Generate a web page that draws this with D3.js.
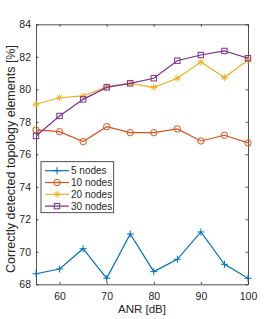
<!DOCTYPE html>
<html>
<head>
<meta charset="utf-8">
<script src="https://cdn.jsdelivr.net/npm/d3@7"></script>
<style>
body { margin: 0; background: #fff; }
text { font-family: "Liberation Sans", Arial, sans-serif; fill: #262626; }
</style>
</head>
<body>
<div id="chart"></div>
<script>
var anr = [55, 60, 65, 70, 75, 80, 85, 90, 95, 100];
var nodes5 = [68.65, 68.94, 70.19, 68.37, 71.1, 68.78, 69.54, 71.22, 69.23, 68.37];
var nodes10 = [77.5, 77.39, 76.78, 77.7, 77.33, 77.33, 77.56, 76.82, 77.17, 76.7];
var nodes20 = [79.08, 79.48, 79.59, 80.16, 80.37, 80.12, 80.68, 81.68, 80.72, 81.8];
var nodes30 = [77.13, 78.36, 79.38, 80.12, 80.37, 80.68, 81.76, 82.11, 82.36, 81.91];
var xTicks = [60, 70, 80, 90, 100];
var yTicks = [68, 70, 72, 74, 76, 78, 80, 82, 84];

var series = [
	{ name: "5 nodes", values: nodes5, color: "#0072BD", marker: "plus" },
	{ name: "10 nodes", values: nodes10, color: "#D95319", marker: "circle" },
	{ name: "20 nodes", values: nodes20, color: "#EDB120", marker: "star" },
	{ name: "30 nodes", values: nodes30, color: "#7E2F8E", marker: "square" }
];

var W = 274, H = 319;
var pLeft = 36, pRight = 248, pTop = 24.3, pBottom = 284.3;

var svg = d3.select("#chart").append("svg")
	.attr("width", W)
	.attr("height", H);

var x = d3.scaleLinear().domain([55, 100]).range([pLeft, pRight]);
var y = d3.scaleLinear().domain([68, 84]).range([pBottom, pTop]);

// axes with inward ticks, box on all four sides
var axisColor = "#262626";
svg.append("g").attr("transform", "translate(0," + pBottom + ")")
	.call(d3.axisBottom(x).tickValues(xTicks).tickSizeInner(-2.5).tickSizeOuter(0).tickPadding(8));
svg.append("g").attr("transform", "translate(0," + pTop + ")")
	.call(d3.axisTop(x).tickValues(xTicks).tickSizeInner(-2.5).tickSizeOuter(0).tickFormat(""));
svg.append("g").attr("transform", "translate(" + pLeft + ",0)")
	.call(d3.axisLeft(y).tickValues(yTicks).tickSizeInner(-2.5).tickSizeOuter(0).tickPadding(5));
svg.append("g").attr("transform", "translate(" + pRight + ",0)")
	.call(d3.axisRight(y).tickValues(yTicks).tickSizeInner(-2.5).tickSizeOuter(0).tickFormat(""));
svg.selectAll(".domain, .tick line").attr("stroke", axisColor).attr("stroke-width", 0.8);
svg.selectAll(".tick text").style("font-size", "10.5px").attr("fill", axisColor);

svg.append("text")
	.attr("x", (pLeft + pRight) / 2)
	.attr("y", 313)
	.attr("text-anchor", "middle")
	.style("font-size", "11.5px")
	.text("ANR [dB]");

svg.append("text")
	.attr("transform", "translate(15,159) rotate(-90)")
	.attr("text-anchor", "middle")
	.style("font-size", "12.5px")
	.text("Correctly detected topology elements [%]");

function drawMarker(g, type, color) {
	if (type == "plus") {
		g.append("path").attr("d", "M-3.5,0H3.5M0,-3.5V3.5");
	} else if (type == "circle") {
		g.append("circle").attr("r", 3.2);
	} else if (type == "star") {
		g.append("path").attr("d", "M-3.5,0H3.5M0,-3.5V3.5M-2.5,-2.5L2.5,2.5M-2.5,2.5L2.5,-2.5");
	} else {
		g.append("rect").attr("x", -2.7).attr("y", -2.7).attr("width", 5.4).attr("height", 5.4);
	}
	g.selectAll("*").attr("fill", "none").attr("stroke", color).attr("stroke-width", 1);
}

var line = d3.line()
	.x(function(d, i) { return x(anr[i]); })
	.y(function(d) { return y(d); });

series.forEach(function(s) {
	svg.append("path")
		.attr("d", line(s.values))
		.attr("fill", "none")
		.attr("stroke", s.color)
		.attr("stroke-width", 1.2);
	s.values.forEach(function(v, i) {
		var g = svg.append("g").attr("transform", "translate(" + x(anr[i]) + "," + y(v) + ")");
		drawMarker(g, s.marker, s.color);
	});
});

// legend
var leg = svg.append("g");
leg.append("rect")
	.attr("x", 41).attr("y", 161.7)
	.attr("width", 72.7).attr("height", 51)
	.attr("fill", "#fff")
	.attr("stroke", axisColor)
	.attr("stroke-width", 0.8);
series.forEach(function(s, i) {
	var yy = 170.7 + i * 11.8;
	leg.append("line")
		.attr("x1", 45).attr("x2", 69)
		.attr("y1", yy).attr("y2", yy)
		.attr("stroke", s.color).attr("stroke-width", 1.2);
	var g = leg.append("g").attr("transform", "translate(57," + yy + ")");
	drawMarker(g, s.marker, s.color);
	leg.append("text")
		.attr("x", 71).attr("y", yy + 3.5)
		.style("font-size", "10px")
		.text(s.name);
});
</script>
</body>
</html>
